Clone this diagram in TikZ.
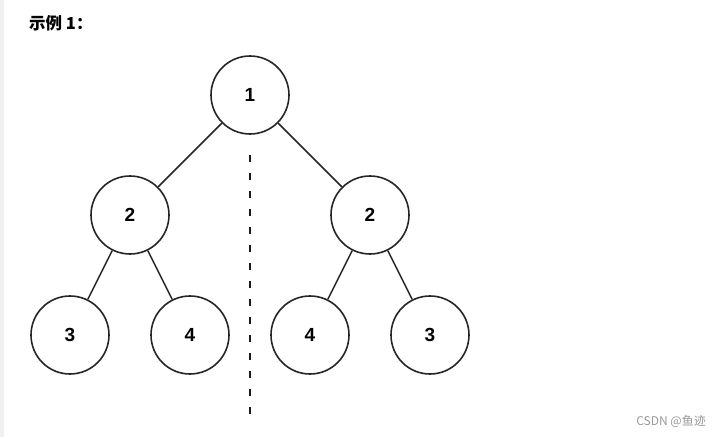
\documentclass[tikz,border=0pt]{standalone}
\usepackage{fontspec}
\setmainfont{Liberation Sans}
\newfontfamily\cjk{Noto Sans CJK SC}
\usetikzlibrary{positioning}

\tikzset{
    treenode/.style={draw=black!85, circle, line width=1.6pt, minimum size=78pt,
        inner sep=0pt, font=\fontsize{19}{19}\selectfont\bfseries},
    edge/.style={draw=black!85, line width=1.5pt},
}

\begin{document}
\begin{tikzpicture}[x=1pt, y=-1pt]
    % Page
    \fill[white] (0,0) rectangle (720,437);
    \fill[black!6] (0,0) rectangle (4,437);
    \useasboundingbox (0,0) rectangle (720,437);

    % Title
    \node[anchor=west, inner sep=0pt] (title) at (29,23)
        {\cjk\fontsize{16.5}{16.5}\selectfont\bfseries 示例 1：};

    % Nodes
    \node[treenode] (root) at (250,95) {1};
    \node[treenode] (left) at (130,215) {2};
    \node[treenode] (right) at (370,215) {2};
    \node[treenode] (ll) at (70,335) {3};
    \node[treenode] (lr) at (190,335) {4};
    \node[treenode] (rl) at (310,335) {4};
    \node[treenode] (rr) at (430,335) {3};

    % Mirror line
    \coordinate (top) at (250,155);
    \coordinate (bottom) at (250,415);
    \draw[black!90, line width=2.6pt, dash pattern=on 7pt off 11pt] (top) -- (bottom);

    % Connections
    \draw[edge] (root) -- (left);
    \draw[edge] (root) -- (right);
    \draw[edge] (left) -- (ll);
    \draw[edge] (left) -- (lr);
    \draw[edge] (right) -- (rl);
    \draw[edge] (right) -- (rr);

    % Watermark
    \node[anchor=east, inner sep=0pt, text=black!40] (mark) at (706,421)
        {\cjk\fontsize{12}{12}\selectfont CSDN @鱼迹};
\end{tikzpicture}
\end{document}
